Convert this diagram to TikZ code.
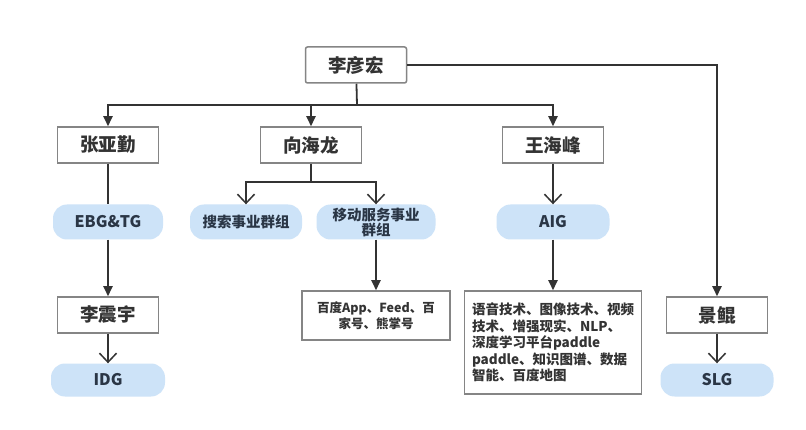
\documentclass[tikz,border=0pt]{standalone}
\usepackage{fontspec}
\setmainfont{Noto Sans CJK SC}
\usetikzlibrary{arrows.meta}
\definecolor{txt}{HTML}{333333}
\definecolor{gtxt}{HTML}{2A3646}
\definecolor{frame}{HTML}{858585}
\definecolor{grp}{HTML}{CDE3F8}
\definecolor{wire}{HTML}{333333}

\begin{document}
\begin{tikzpicture}[x=1pt,y=-1pt,
  >/.tip={Triangle[length=10pt,width=9pt]},
  open/.tip={Straight Barb[length=9pt,width=17pt,line width=1.5pt]},
  pbox/.style={draw=frame,line width=1.5pt,fill=white,minimum width=101pt,minimum height=36pt,
    inner sep=0pt,text=txt,font=\fontsize{18.5}{20}\selectfont\bfseries},
  gbox/.style={fill=grp,rounded corners=14pt,minimum height=35pt,inner sep=0pt,
    text=gtxt,font=\fontsize{14.5}{16}\selectfont\bfseries,align=center},
  tbox/.style={draw=frame,line width=1.5pt,fill=white,inner sep=0pt,text=txt},
  wire/.style={draw=wire,line width=1.8pt}]
\useasboundingbox (0,0) rectangle (806,430);
\fill[white] (0,0) rectangle (806,430);

% people
\draw (356,65) node[pbox,rounded corners=2pt] (lyh) {李彦宏};
\draw (108,145) node[pbox] (zyq) {张亚勤};
\draw (311,145) node[pbox] (xhl) {向海龙};
\draw (553,145) node[pbox] (whf) {王海峰};
\draw (108,315) node[pbox] (lzy) {李震宇};
\draw (717,315) node[pbox] (jk) {景鲲};

% groups
\draw (108,222) node[gbox,minimum width=110pt,font=\fontsize{16}{18}\selectfont\bfseries] (ebg) {EBG\&TG};
\draw (246,222) node[gbox,minimum width=112pt] (ss) {搜索事业群组};
\draw (376,222) node[gbox,minimum width=119pt,font=\fontsize{14.5}{15}\selectfont\bfseries] (yd) {移动服务事业\\群组};
\draw (553,222) node[gbox,minimum width=113pt,font=\fontsize{16}{18}\selectfont\bfseries] (aig) {AIG};
\draw (108,380) node[gbox,minimum width=114pt,minimum height=33pt,font=\fontsize{16}{18}\selectfont\bfseries] (idg) {IDG};
\draw (717,380) node[gbox,minimum width=113pt,minimum height=33pt,font=\fontsize{16}{18}\selectfont\bfseries] (slg) {SLG};

% products
\draw (376,315.5) node[tbox,minimum width=148pt,minimum height=49pt,align=center,
  font=\fontsize{12.5}{16}\selectfont\bfseries] (bd) {百度App、Feed、百\\家号、熊掌号};
\draw (553,342.5) node[tbox,minimum width=177pt,minimum height=103pt,align=left,
  font=\fontsize{13.5}{16.5}\selectfont\bfseries] (ai) {语音技术、图像技术、视频\\技术、增强现实、NLP、\\深度学习平台paddle\\paddle、知识图谱、数据\\智能、百度地图};

% links
\coordinate (j1) at (357,105);
\coordinate (j2) at (311,182);
\draw[wire] (lyh) -- (j1);
\foreach \n in {zyq,xhl,whf}
  \draw[wire,->] (j1) -| (\n);
\draw[wire,->] (lyh) -| (jk);
\draw[wire] (zyq) -- (ebg);
\draw[wire] (xhl) -- (j2);
\foreach \n in {ss,yd}
  \draw[wire,-open] (j2) -| (\n);
\draw[wire,-open] (whf) -- (aig);
\draw[wire,->] (ebg) -- (lzy);
\draw[wire,-open] (lzy) -- (idg);
\draw[wire,->] (yd) -- (bd);
\draw[wire,->] (aig) -- (ai);
\draw[wire,-open] (jk) -- (slg);
\end{tikzpicture}
\end{document}
